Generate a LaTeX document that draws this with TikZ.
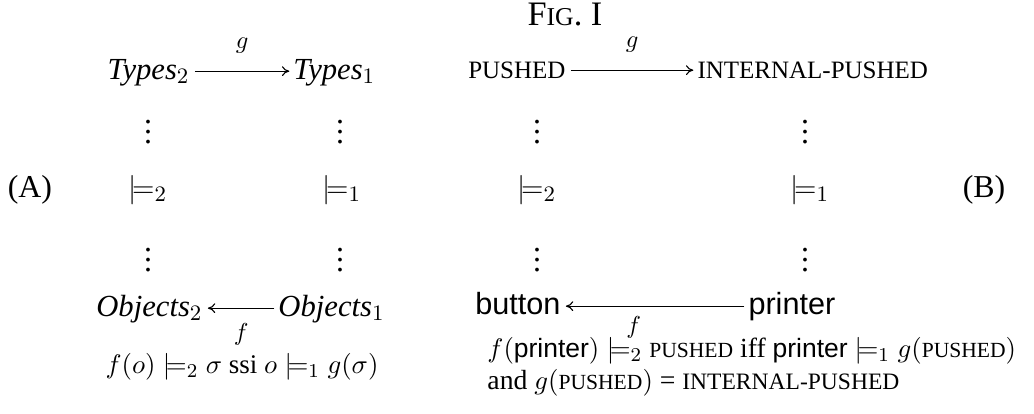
\documentclass[tikz,border=0pt]{standalone}
\usepackage{amsmath,amssymb}
\usepackage[no-math]{fontspec}
\setmainfont{Liberation Serif}
\setsansfont{Liberation Sans}
\usetikzlibrary{positioning, arrows.meta}

% faked small capitals (Liberation Serif has none)
\newcommand{\fakesc}[1]{{\fontsize{8.8}{10}\selectfont #1}}
\newcommand{\obname}[1]{{\fontsize{10.8}{12}\selectfont\sffamily #1}}

\begin{document}
\begin{tikzpicture}[x=0.408pt, y=-0.408pt,
	every node/.style={inner sep=0pt},
	obj/.style={font=\fontsize{12.5}{14}\selectfont},
	caps/.style={font=\fontsize{10.2}{12}\selectfont},
	rel/.style={font=\fontsize{13}{15}\selectfont},
	lbl/.style={font=\fontsize{10}{12}\selectfont},
	formula/.style={font=\fontsize{11.3}{13}\selectfont},
	map/.style={-{To[length=3pt,width=4pt]}, line width=0.45pt}]
		\useasboundingbox (0,0) rectangle (1034,413);
		
		\node[font=\fontsize{14}{16}\selectfont] (fig) at (565,14) {F{\fontsize{10.5}{12}\selectfont IG}. I};
		
		% (A): types and objects
		\node[obj, anchor=base east] (t2) at (190,79) {\textit{Types}$_2$};
		\node[obj, anchor=base west] (t1) at (293,79) {\textit{Types}$_1$};
		\node[obj, anchor=base east] (o2) at (203,316) {\textit{Objects}$_2$};
		\node[obj, anchor=base west] (o1) at (278,316) {\textit{Objects}$_1$};
		
		% (B): example
		\node[caps, anchor=base east] (p2) at (566,78) {PUSHED};
		\node[caps, anchor=base west] (p1) at (697,78) {INTERNAL-PUSHED};
		\node[obj, font=\fontsize{12.5}{14}\selectfont\sffamily, anchor=base east] (b2) at (561,314) {button};
		\node[obj, font=\fontsize{12.5}{14}\selectfont\sffamily, anchor=base west] (b1) at (748,314) {printer};
		
		% Arrows
		\draw[map] ([xshift=2pt, yshift=3.2pt]t2.base east) -- node[lbl, above=7pt] (g1) {$g$} ([xshift=-1.5pt, yshift=3.2pt]t1.base west);
		\draw[map] ([xshift=2pt, yshift=3.2pt]p2.base east) -- node[lbl, above=7pt] (g2) {$g$} ([xshift=-1.5pt, yshift=3.2pt]p1.base west);
		\draw[map] ([xshift=-1.5pt, yshift=3.2pt]o1.base west) -- node[lbl, below=6pt] (f1) {$f$} ([xshift=2pt, yshift=3.2pt]o2.base east);
		\draw[map] ([xshift=-1.5pt, yshift=3.2pt]b1.base west) -- node[lbl, below=4pt, pos=0.62] (f2) {$f$} ([xshift=2pt, yshift=3.2pt]b2.base east);
		
		% Satisfaction relations
		\node[rel] (la) at (30,190) {(A)};
		\node[rel] (lb) at (984,190) {(B)};
		\node[rel] (m2) at (148,190) {$\models_2$};
		\node[rel] (m1) at (342,190) {$\models_1$};
		\node[rel] (n2) at (537,190) {$\models_2$};
		\node[rel] (n1) at (810,190) {$\models_1$};
		\foreach \x/\n in {148/a, 340/b, 537/c, 805/d} {
			\node[rel] (up\n) at (\x,125) {$\vdots$};
			\node[rel] (dn\n) at (\x,253) {$\vdots$};
		}
		
		% Formulas
		\node[formula, font=\fontsize{11}{13}\selectfont] (fa) at (242,367) {$f(o) \models_2 \sigma$ ssi $o \models_1 g(\sigma)$};
		\node[formula, anchor=west] (fb1) at (487,351)
			{$f($\obname{printer}$) \models_2$ \fakesc{PUSHED} iff \obname{printer} $\models_1 g($\fakesc{PUSHED}$)$};
		\node[formula, anchor=west] (fb2) at (487,383)
			{and $g($\fakesc{PUSHED}$)$ = {\fontsize{9.6}{11}\selectfont INTERNAL-PUSHED}};
	\end{tikzpicture}
\end{document}
